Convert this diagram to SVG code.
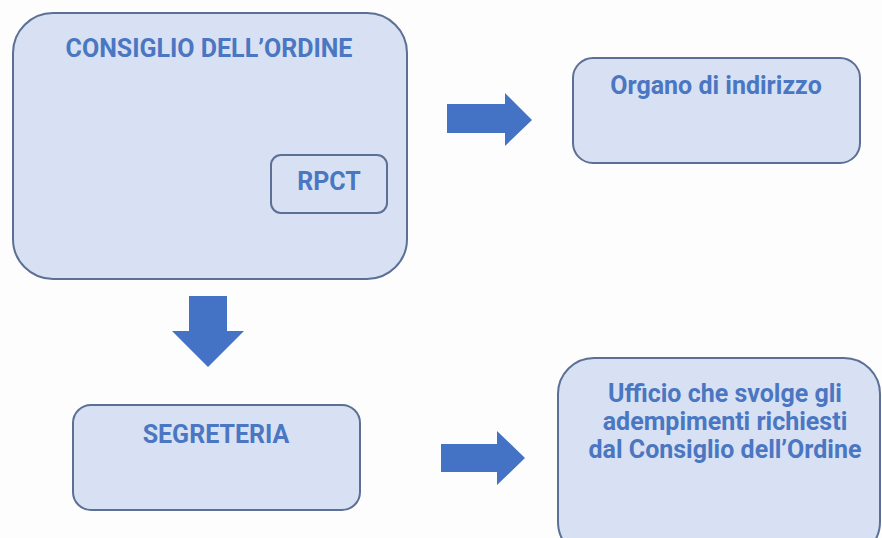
<svg xmlns="http://www.w3.org/2000/svg" width="882" height="538" viewBox="0 0 882 538">
<style>
.box{fill:#d7e1f3;stroke:#5c7096;stroke-width:2}
.t{font-family:Roboto,"Liberation Sans",sans-serif;font-weight:700;fill:#4a76c2;text-anchor:middle;font-size:25px}
.arrow{fill:#4472c4}
</style>
<rect width="882" height="538" fill="#fdfdfd"/>
<g id="consiglio">
<rect class="box" x="13" y="13" width="394" height="266" rx="40"/>
<text class="t" x="209" y="57">CONSIGLIO DELL’ORDINE</text>
</g>
<g id="rpct">
<rect class="box" x="271" y="155" width="116" height="58" rx="10"/>
<text class="t" x="329" y="190">RPCT</text>
</g>
<g id="organo">
<rect class="box" x="573" y="58" width="287" height="105" rx="20"/>
<text class="t" x="716" y="94">Organo di indirizzo</text>
</g>
<g id="segreteria">
<rect class="box" x="73" y="405" width="287" height="105" rx="18"/>
<text class="t" x="216" y="443">SEGRETERIA</text>
</g>
<g id="ufficio">
<rect class="box" x="558" y="358" width="322" height="200" rx="36"/>
<text class="t" x="725" y="402">Ufficio che svolge gli</text>
<text class="t" x="725" y="430">adempimenti richiesti</text>
<text class="t" x="725" y="458">dal Consiglio dell’Ordine</text>
</g>
<g id="connectors">
<polygon class="arrow" points="447,104 505,104 505,93 532,120 505,146 505,133 447,133"/>
<polygon class="arrow" points="189,296 227,296 227,331 244,331 208,367 172,331 189,331"/>
<polygon class="arrow" points="441,444 497,444 497,431 525,458 497,485 497,472 441,472"/>
</g>
</svg>
